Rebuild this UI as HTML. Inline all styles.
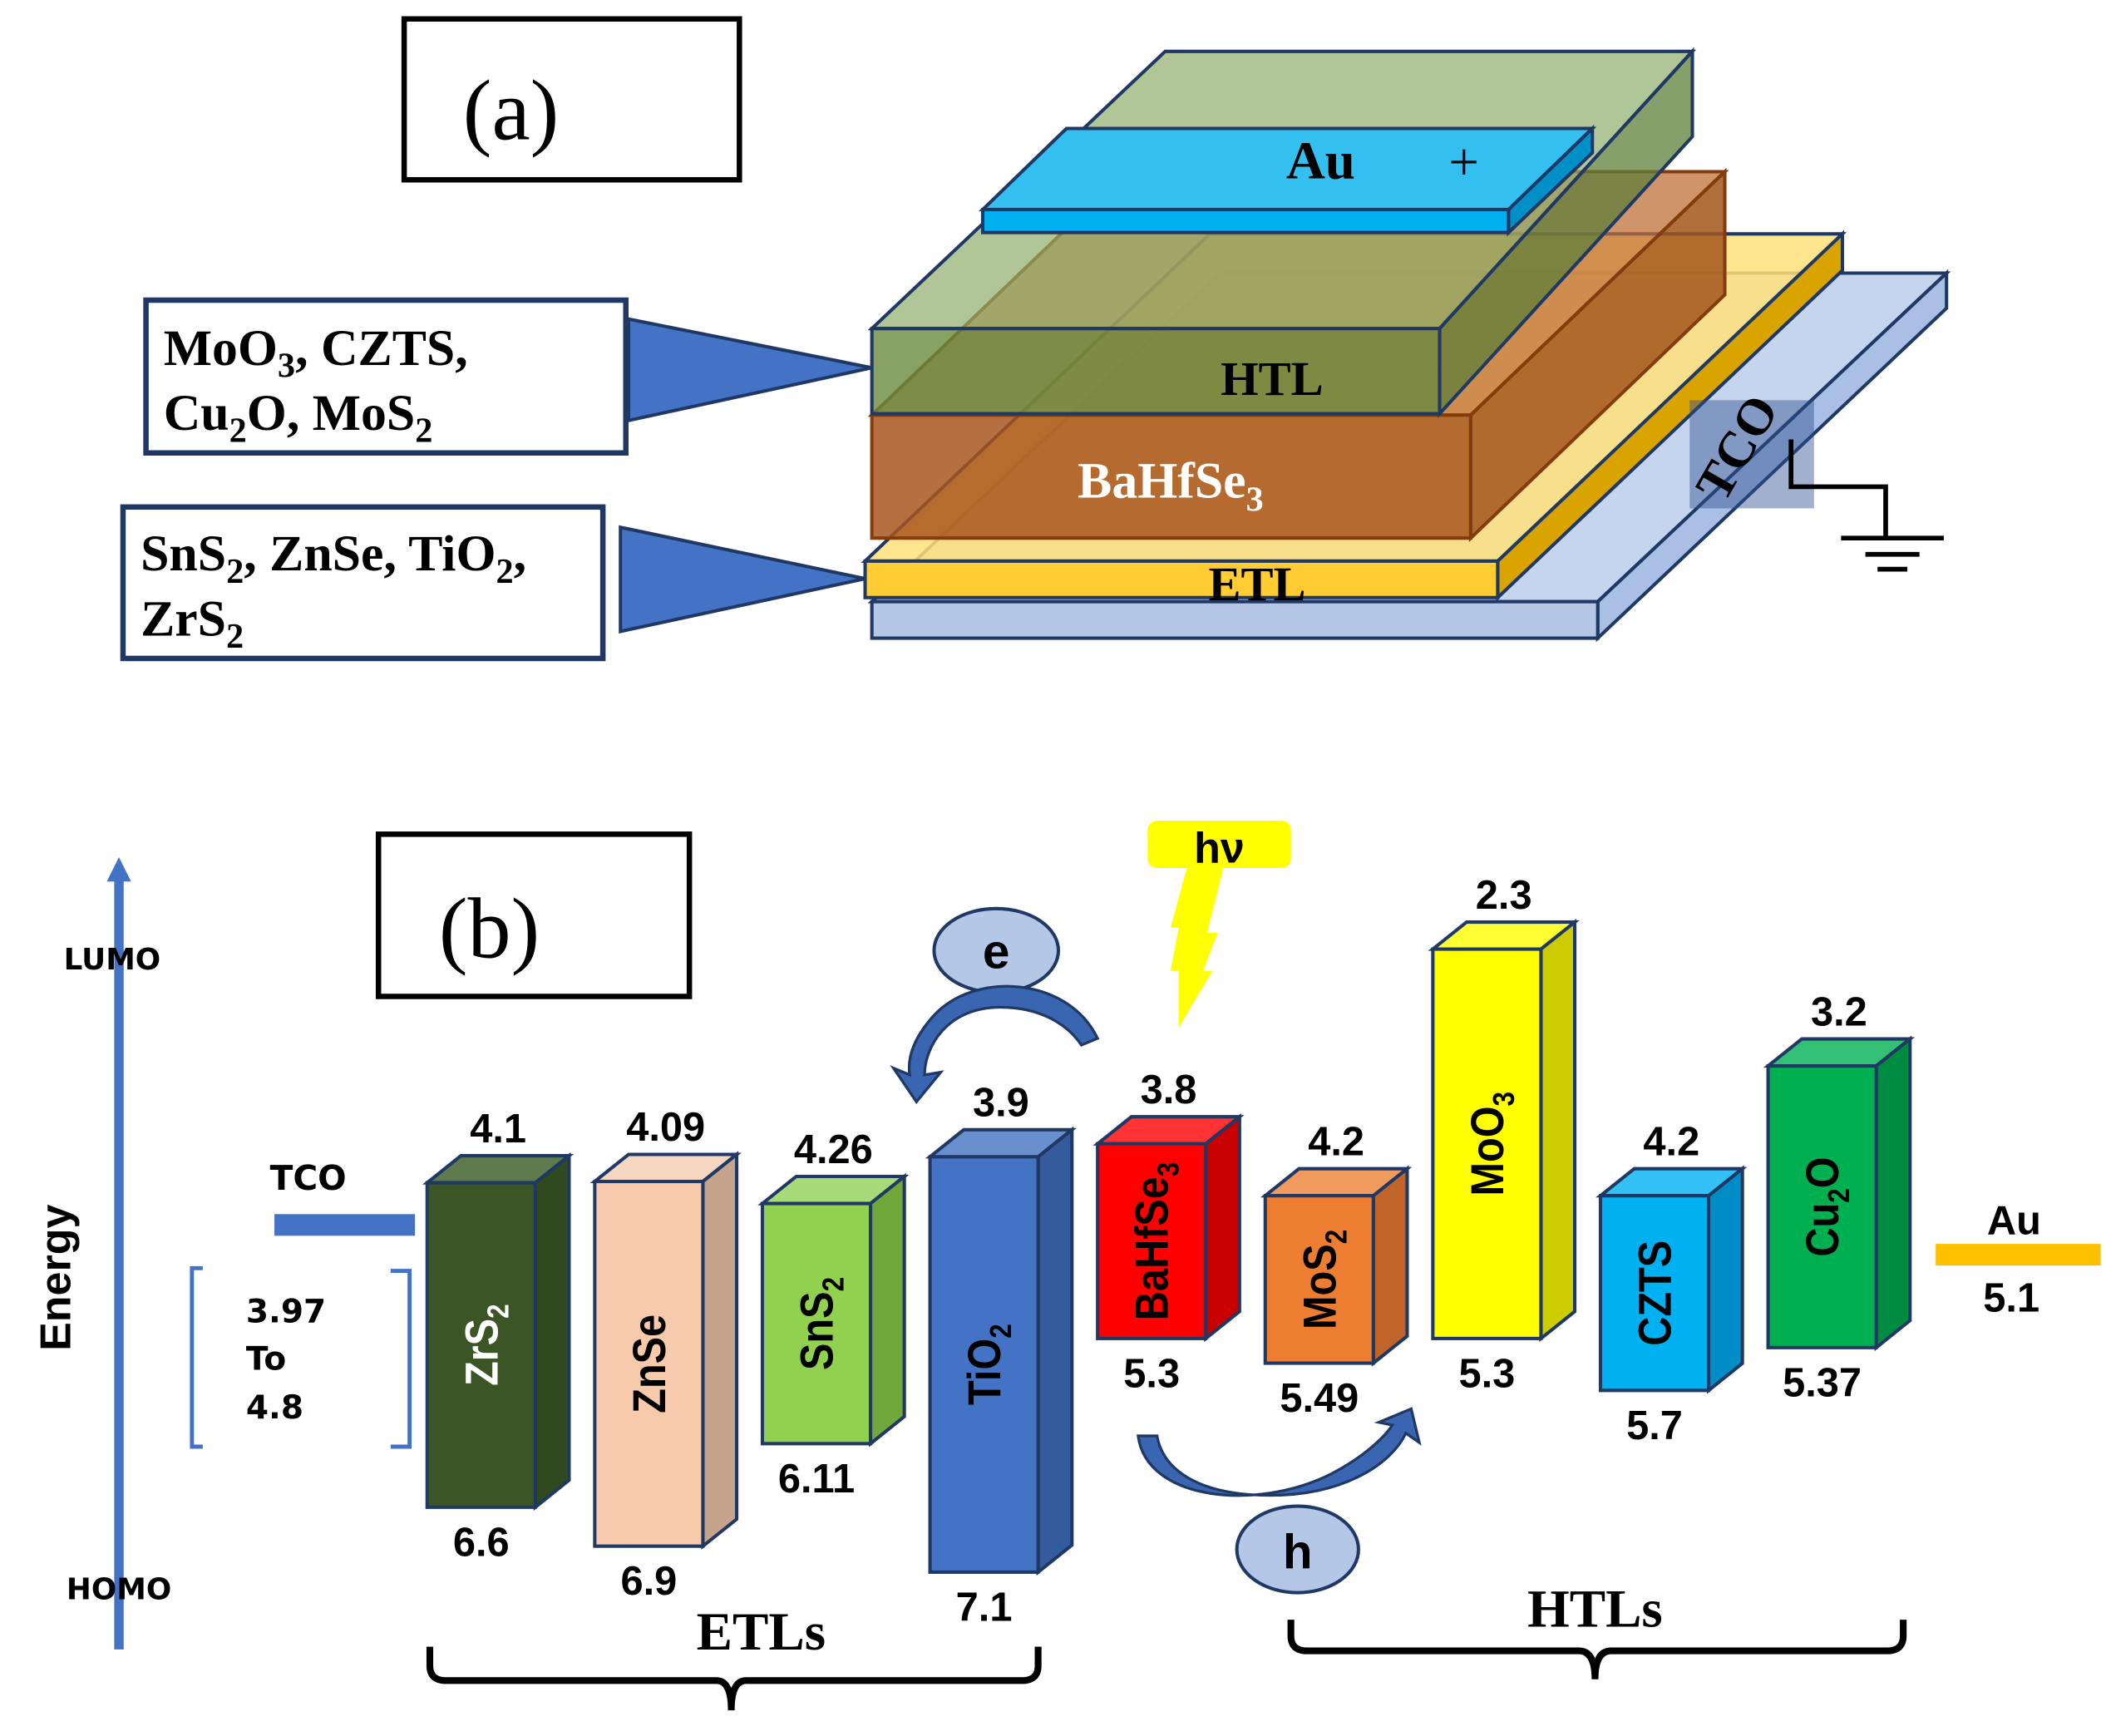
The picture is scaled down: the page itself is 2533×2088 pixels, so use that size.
<!DOCTYPE html>
<html><head><meta charset="utf-8"><style>
html,body{margin:0;padding:0;background:#fff;}
svg{display:block;}
.sf{font-family:"Liberation Serif",serif;font-weight:bold;}
.ss{font-family:"Liberation Sans Narrow","Liberation Sans",sans-serif;font-weight:bold;}
</style></head><body>
<svg id="fig" width="2533" height="2088" viewBox="0 0 1558 1284" preserveAspectRatio="none" xmlns="http://www.w3.org/2000/svg">
<g>
 <rect x="299" y="14" width="248" height="119" fill="#fff" stroke="#000" stroke-width="4"/>
 <text x="378" y="103" font-family="Liberation Serif,serif" font-size="64" text-anchor="middle">(a)</text>
 <g stroke="#1f3864" stroke-width="2.5">
  <polygon points="645,445 1182,445 1440,202 903,202" fill="#c5d5ee"/>
  <polygon points="1182,445 1440,202 1440,228 1182,472" fill="#a9bfe3"/>
  <rect x="645" y="445" width="537" height="27" fill="#b4c7e7"/>
 </g>
 <g stroke="#1f3864" stroke-width="2.5">
  <polygon points="640,415 1108,415 1363,173 895,173" fill="#ffe07a" fill-opacity="0.85"/>
  <polygon points="1108,415 1363,173 1363,200 1108,442" fill="#d9a400"/>
  <rect x="640" y="415" width="468" height="27" fill="#ffcc33"/>
 </g>
 <g stroke="#843c0c" stroke-width="2.5">
  <polygon points="645,307 1088,307 1276,127 833,127" fill="#c0703a" fill-opacity="0.75"/>
  <polygon points="1088,307 1276,127 1276,218 1088,398" fill="#a3561c" fill-opacity="0.85"/>
  <rect x="645" y="307" width="443" height="91" fill="#a9561e" fill-opacity="0.85"/>
 </g>
 <g stroke="#1f3864" stroke-width="2.5">
  <polygon points="645,243 1065,243 1252,38 862,38" fill="#8fae6a" fill-opacity="0.7"/>
  <polygon points="1065,243 1252,38 1252,101 1065,306" fill="#5f7f3a" fill-opacity="0.75"/>
  <rect x="645" y="243" width="420" height="63" fill="#6a8a3e" fill-opacity="0.8"/>
 </g>
 <g stroke="#1f3864" stroke-width="2.5">
  <polygon points="727,155 1116,155 1178,95 789,95" fill="#33bff0"/>
  <polygon points="1116,155 1178,95 1178,113 1116,172" fill="#0090c8"/>
  <rect x="727" y="155" width="389" height="17" fill="#00b0f0"/>
 </g>
 <text x="977" y="132" class="sf" font-size="40" text-anchor="middle">Au</text>
 <text x="1083" y="133" font-family="Liberation Serif,serif" font-size="40" text-anchor="middle">+</text>
 <text x="941" y="292" class="sf" font-size="36" text-anchor="middle">HTL</text>
 <text x="866" y="368" class="sf" font-size="38" fill="#fff" text-anchor="middle">BaHfSe<tspan font-size="26" dy="10">3</tspan></text>
 <text x="930" y="444" class="sf" font-size="36" text-anchor="middle">ETL</text>
 <rect x="1250" y="296" width="92" height="80" fill="#2f4f8f" fill-opacity="0.45"/>
 <text x="1283" y="345" class="sf" font-size="38" text-anchor="middle" transform="rotate(-60 1283 330)">TCO</text>
 <g stroke="#000" stroke-width="3.5" fill="none">
  <polyline points="1325,325 1325,360 1395,360 1395,398"/>
  <line x1="1362" y1="398" x2="1438" y2="398"/>
  <line x1="1380" y1="410" x2="1420" y2="410"/>
  <line x1="1389" y1="421" x2="1411" y2="421"/>
 </g>
 <rect x="108" y="222" width="355" height="113" fill="#fff" stroke="#1f3864" stroke-width="4"/>
 <text x="121" y="270" class="sf" font-size="38">MoO<tspan font-size="26" dy="9">3</tspan><tspan dy="-9">, CZTS,</tspan></text>
 <text x="121" y="318" class="sf" font-size="38">Cu<tspan font-size="26" dy="9">2</tspan><tspan dy="-9">O, MoS</tspan><tspan font-size="26" dy="9">2</tspan></text>
 <polygon points="465,236 465,311 645,272" fill="#4472c4" stroke="#1f3864" stroke-width="2.5"/>
 <rect x="91" y="375" width="355" height="112" fill="#fff" stroke="#1f3864" stroke-width="4"/>
 <text x="104" y="422" class="sf" font-size="38">SnS<tspan font-size="26" dy="9">2</tspan><tspan dy="-9">, ZnSe, TiO</tspan><tspan font-size="26" dy="9">2</tspan><tspan dy="-9">,</tspan></text>
 <text x="104" y="470" class="sf" font-size="38">ZrS<tspan font-size="26" dy="9">2</tspan></text>
 <polygon points="459,390 459,467 640,428" fill="#4472c4" stroke="#1f3864" stroke-width="2.5"/>
</g>

<g>
 <rect x="280" y="617" width="230" height="120" fill="#fff" stroke="#000" stroke-width="4"/>
 <text x="362" y="708" font-family="Liberation Serif,serif" font-size="64" text-anchor="middle">(b)</text>
 <line x1="88" y1="1220" x2="88" y2="650" stroke="#4472c4" stroke-width="7"/>
 <polygon points="79,652 97,652 88,634" fill="#4472c4"/>
 <text x="83" y="717" font-family="DejaVu Sans,sans-serif" font-weight="bold" font-size="22" text-anchor="middle">LUMO</text>
 <text x="88" y="1183" font-family="DejaVu Sans,sans-serif" font-weight="bold" font-size="22" text-anchor="middle">HOMO</text>
 <text x="62" y="955" class="ss" font-size="32" text-anchor="middle" transform="rotate(-90 52 955)">Energy</text>
 <text x="228" y="880" font-family="DejaVu Sans,sans-serif" font-weight="bold" font-size="25" text-anchor="middle">TCO</text>
 <rect x="203" y="898" width="104" height="16" fill="#4472c4"/>
 <path d="M150,938 H142 V1070 H150" fill="none" stroke="#4472c4" stroke-width="3"/>
 <path d="M289,940 H303 V1070 H289" fill="none" stroke="#4472c4" stroke-width="3"/>
 <g font-family="DejaVu Sans,sans-serif" font-weight="bold" font-size="24">
  <text x="182" y="978">3.97</text><text x="182" y="1013">To</text><text x="182" y="1049">4.8</text>
 </g>
 <rect x="1432" y="920" width="122" height="16" fill="#ffc000"/>
 <text x="1490" y="913" class="ss" font-size="30" text-anchor="middle">Au</text>
 <text x="1488" y="970" class="ss" font-size="30" text-anchor="middle">5.1</text>

 <rect x="849" y="607" width="106" height="35" rx="7" fill="#ffff00"/>
 <text x="902" y="638" class="ss" font-size="32" text-anchor="middle">hν</text>
 <polygon points="878,642 905,642 893,690 901,690 890,718 897,718 872,760 872,718 866,718 872,686 866,686" fill="#ffff00"/>

 <ellipse cx="737" cy="703" rx="46" ry="31" fill="#b4c7e7" stroke="#1f3864" stroke-width="2.5"/>
 <text x="737" y="716" class="ss" font-size="36" text-anchor="middle">e</text>
 <path d="M812,768 C790,722 720,718 690,752 C676,768 671,782 673,795 L661,790 L678,815 L696,793 L684,795 C684,775 700,745 740,745 C770,745 790,758 800,773 Z" fill="#3a65b0" stroke="#1f3864" stroke-width="2"/>
 <ellipse cx="960" cy="1146" rx="45" ry="32" fill="#b4c7e7" stroke="#1f3864" stroke-width="2.5"/>
 <text x="960" y="1160" class="ss" font-size="36" text-anchor="middle">h</text>
 <path d="M842,1062 C848,1110 930,1118 985,1090 C1010,1077 1025,1062 1030,1054 L1020,1052 L1044,1042 L1050,1067 L1040,1060 C1030,1082 995,1106 940,1106 C885,1106 860,1086 856,1062 Z" fill="#3a65b0" stroke="#1f3864" stroke-width="2"/>

 <text x="563" y="1220" class="sf" font-size="40" text-anchor="middle">ETLs</text>
 <text x="1180" y="1203" class="sf" font-size="40" text-anchor="middle">HTLs</text>
 <path d="M318,1218 V1232 Q318,1243 330,1243 H530 Q541,1243 541,1265 Q541,1243 552,1243 H756 Q768,1243 768,1232 V1218" fill="none" stroke="#000" stroke-width="5"/>
 <path d="M955,1198 V1210 Q955,1221 967,1221 H1168 Q1180,1221 1180,1242 Q1180,1221 1192,1221 H1396 Q1408,1221 1408,1210 V1198" fill="none" stroke="#000" stroke-width="5"/>
 <g id="bars"></g>
</g>
</svg>
<script>
const materials = ["ZrS2","ZnSe","SnS2","TiO2","BaHfSe3","MoS2","MoO3","CZTS","Cu2O"];
const lumo = [4.1, 4.09, 4.26, 3.9, 3.8, 4.2, 2.3, 4.2, 3.2];
const homo = [6.6, 6.9, 6.11, 7.1, 5.3, 5.49, 5.3, 5.7, 5.37];
const lumoLabels = ["4.1","4.09","4.26","3.9","3.8","4.2","2.3","4.2","3.2"];
const homoLabels = ["6.6","6.9","6.11","7.1","5.3","5.49","5.3","5.7","5.37"];
const fronts = ["#3b5526","#f7caac","#92d050","#4472c4","#ff0000","#ed7d31","#ffff00","#00b0f0","#00b050"];
const sides  = ["#2f4a1f","#c6a48c","#70a83c","#345c9c","#c80000","#c0642a","#cccc00","#008cc4","#008c40"];
const tops   = ["#5f7a4d","#f8d7c2","#a8da78","#6a8fcf","#ff3333","#f19a5e","#ffff33","#33c0f4","#33c074"];
const textCol= ["#fff","#000","#000","#000","#000","#000","#000","#000","#000"];
const subs = [["Zr","S","2"],["ZnSe","",""],["Sn","S","2"],["TiO","","2"],["BaHfSe","","3"],["MoS","","2"],["MoO","","3"],["CZTS","",""],["Cu","","2","O"]];

function xScale(i){ return 316 + i*124; }
function yScale(e){ return 990 + 96*(e-5.3); }
const BW = 80, DX = 25, DY = 20;
const NS = "http://www.w3.org/2000/svg";
const g = document.getElementById('bars');
function mk(tag, attrs){ const el=document.createElementNS(NS,tag); for(const k in attrs) el.setAttribute(k,attrs[k]); return el; }
materials.forEach((m,i)=>{
  const x = xScale(i), y0 = yScale(lumo[i]), y1 = yScale(homo[i]);
  const grp = mk('g',{});
  
  
  const st = {stroke:"#1f3864","stroke-width":"2.5"};
  grp.appendChild(mk('polygon', Object.assign({points:`${x},${y0} ${x+BW},${y0} ${x+BW+DX},${y0-DY} ${x+DX},${y0-DY}`, fill:tops[i]}, st)));
  grp.appendChild(mk('polygon', Object.assign({points:`${x+BW},${y0} ${x+BW+DX},${y0-DY} ${x+BW+DX},${y1-DY} ${x+BW},${y1}`, fill:sides[i]}, st)));
  grp.appendChild(mk('rect', Object.assign({x:x, y:y0, width:BW, height:y1-y0, fill:fronts[i]}, st)));
  const cx = x+BW/2, cy = (y0+y1)/2;
  const t = mk('text',{x:cx, y:cy+12, "text-anchor":"middle", class:"ss", "font-size":"34", fill:textCol[i], transform:`rotate(-90 ${cx} ${cy}) translate(${cx} 0) scale(0.88 1) translate(${-cx} 0)`});
  
  
  const s = subs[i];
  t.appendChild(document.createTextNode(s[0]+s[1]));
  if(s[2]){ const ts=mk('tspan',{"font-size":"22",dy:"8"}); ts.textContent=s[2]; t.appendChild(ts); }
  if(s[3]){ const ts=mk('tspan',{dy:"-8"}); ts.textContent=s[3]; t.appendChild(ts); }
  grp.appendChild(t);
  const lt = mk('text',{x:cx+DX/2, y:y0-DY-10, "text-anchor":"middle", class:"ss", "font-size":"30"});
  
  
  lt.textContent = lumoLabels[i];
  const ht = mk('text',{x:cx, y:y1+36, "text-anchor":"middle", class:"ss", "font-size":"30"});
  
  
  ht.textContent = homoLabels[i];
  grp.appendChild(lt); grp.appendChild(ht);
  g.appendChild(grp);
});
</script>
</body></html>
